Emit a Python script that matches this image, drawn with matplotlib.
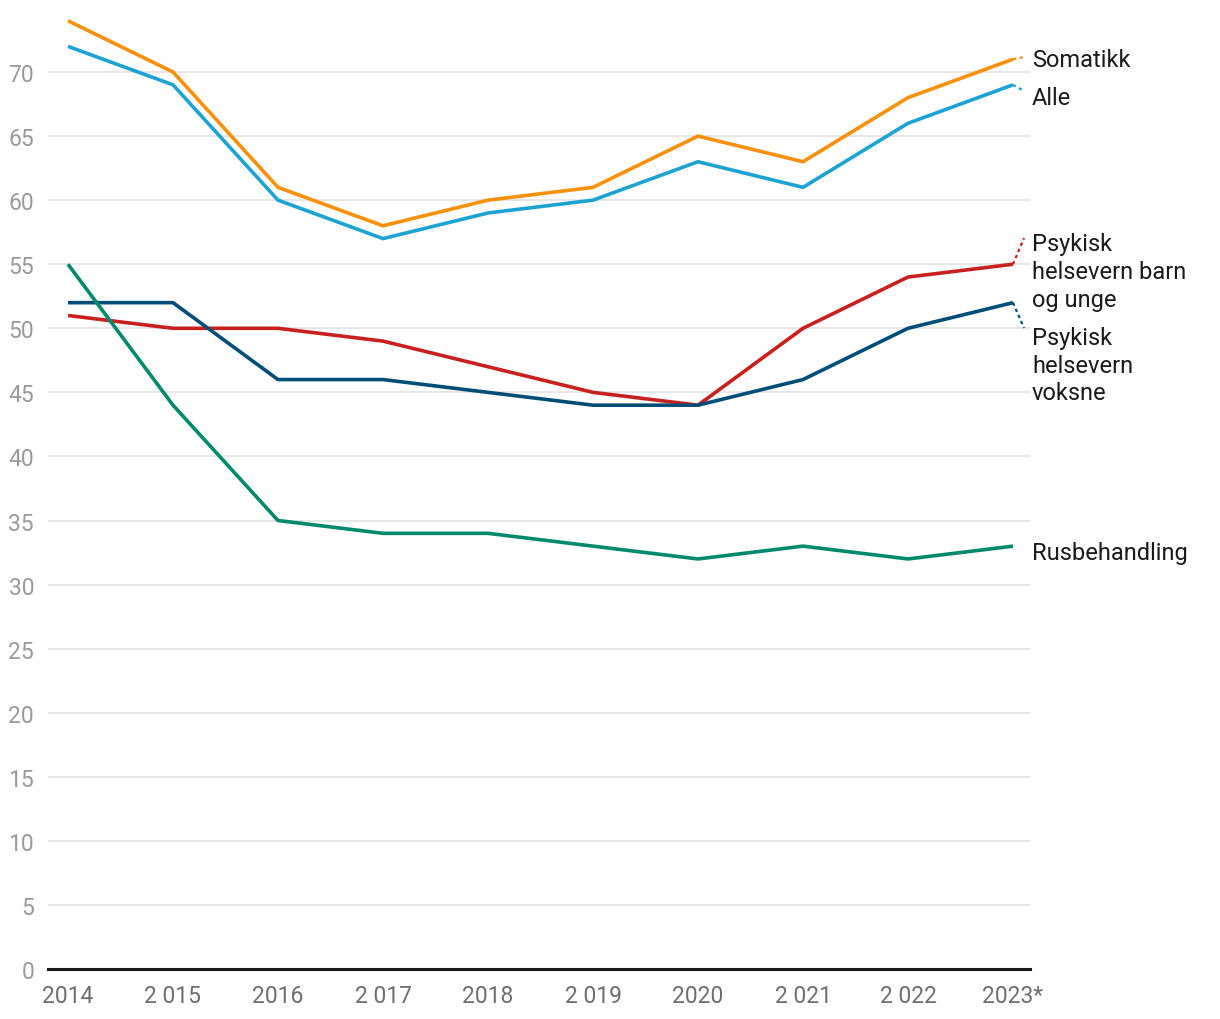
import matplotlib
matplotlib.use("Agg")
import matplotlib.pyplot as plt

years = ["2014", "2 015", "2016", "2 017", "2018", "2 019", "2020", "2 021", "2 022", "2023*"]
somatikk = [74, 70, 61, 58, 60, 61, 65, 63, 68, 71]
alle = [72, 69, 60, 57, 59, 60, 63, 61, 66, 69]
psyk_bu = [51, 50, 50, 49, 47, 45, 44, 50, 54, 55]
psyk_vo = [52, 52, 46, 46, 45, 44, 44, 46, 50, 52]
rus = [55, 44, 35, 34, 34, 33, 32, 33, 32, 33]

yticks = list(range(0, 75, 5))

plt.rcParams['font.family'] = ['Roboto', 'DejaVu Sans']

fig = plt.figure(figsize=(12.2, 10.2), dpi=100)
ax = fig.add_axes([48/1220, 50/1020, (1030-48)/1220, 970/1020])

PX = 12.814  # pixels per unit
def py(ypix):
    return (970 - ypix) / PX

x = list(range(len(years)))
series = [
    (somatikk, "#F7900A", ["Somatikk"], [58], 58, True),
    (alle, "#1CA3D2", ["Alle"], [96], 92, True),
    (psyk_bu, "#C8201F", ["Psykisk", "helsevern barn", "og unge"], [242, 270, 298], 239, True),
    (psyk_vo, "#004E78", ["Psykisk", "helsevern", "voksne"], [336, 364, 391], 329, True),
    (rus, "#00896C", ["Rusbehandling"], [551], 547, False),
]

for vals, col, lines, lys, cy, conn in series:
    ax.plot(x, vals, color=col, lw=2.6, solid_capstyle='butt', zorder=3)
    if conn:
        ax.plot([x[-1], x[-1] + 11/105], [vals[-1], py(cy)], color=col, lw=1.6,
                ls=(0, (1.5, 1.5)), zorder=3, clip_on=False)
    for txt, ly in zip(lines, lys):
        ax.text(x[-1] + 19/105, py(ly), txt, ha='left', va='center_baseline',
                fontsize=17, color='#1a1a1a')

ax.set_xlim(-20/105, 9 + 17/105)
ax.set_ylim(0, 970/PX)
ax.set_yticks(yticks)
ax.set_xticks(x)
ax.set_xticklabels(years)
ax.grid(axis='y', color='#E2E2E2', lw=1.2)
ax.set_axisbelow(True)
for s in ['top', 'right', 'left']:
    ax.spines[s].set_visible(False)
ax.spines['bottom'].set_color('#1a1a1a')
ax.spines['bottom'].set_linewidth(2.2)
ax.tick_params(axis='y', length=0, labelsize=16.5, labelcolor='#9a9a9a', pad=10)
ax.tick_params(axis='x', length=0, labelsize=16.5, labelcolor='#6e6e6e', pad=11)

fig.savefig("out.png", dpi=100)
